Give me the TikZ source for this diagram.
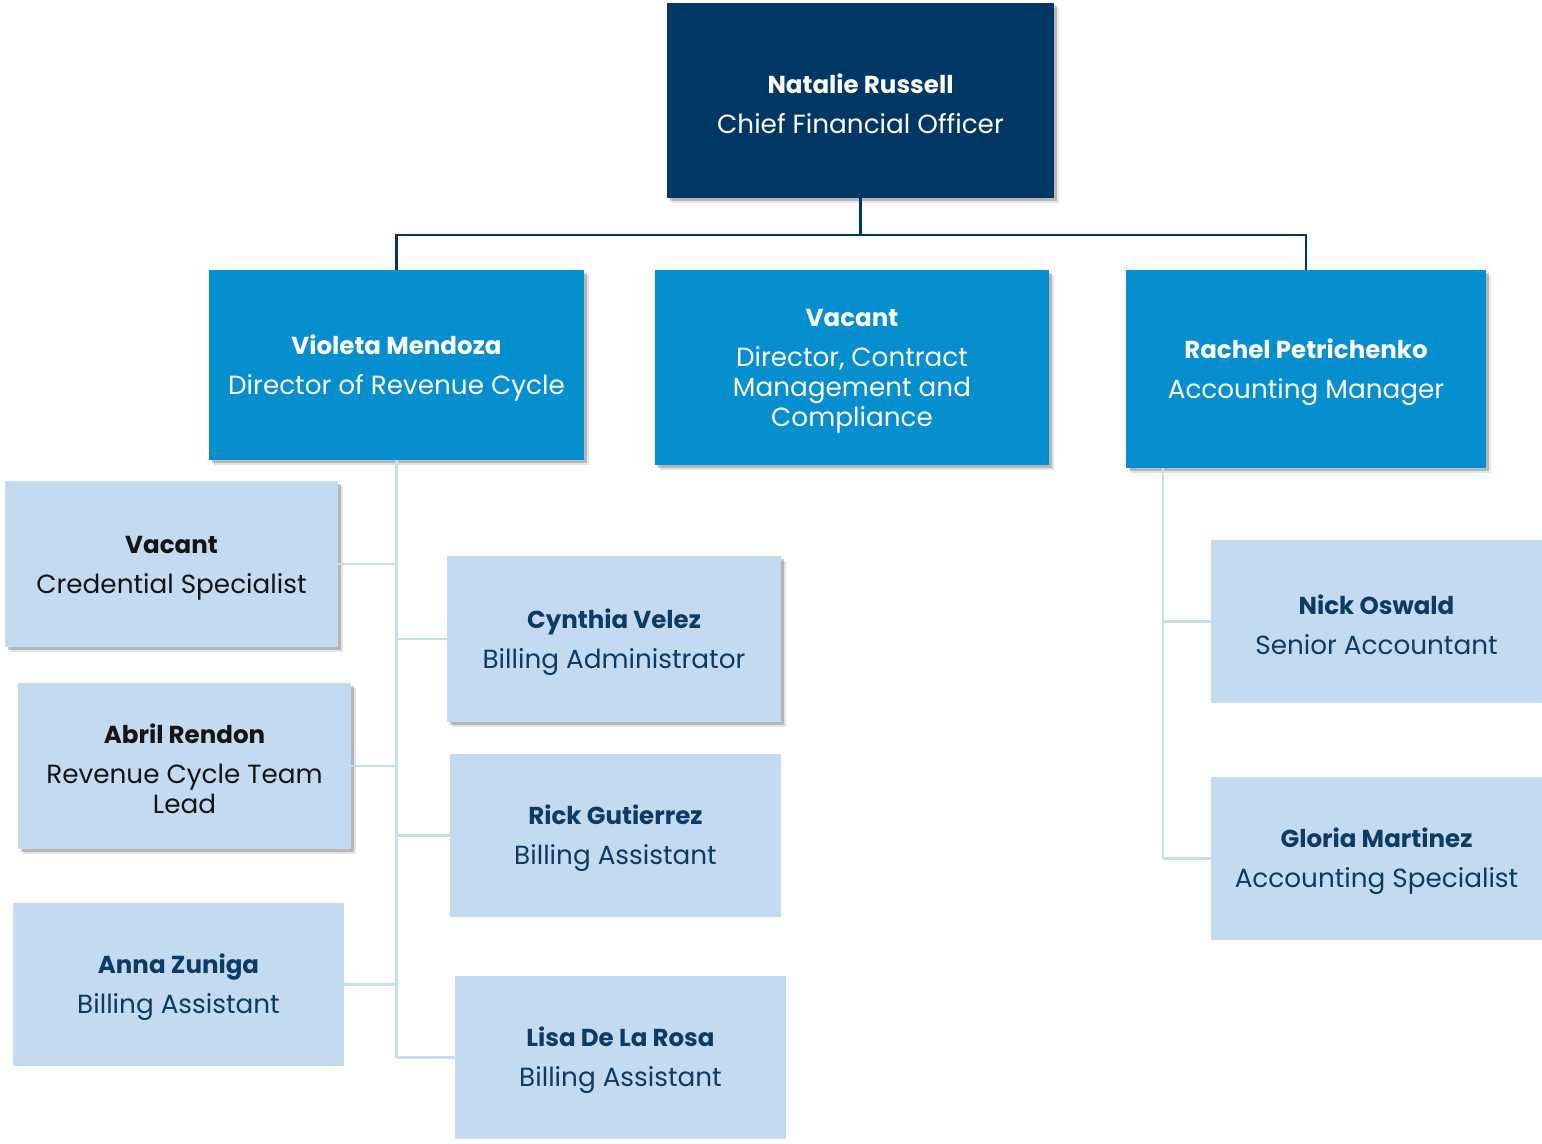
\documentclass[tikz,border=0pt]{standalone}
\usepackage{fontspec}
\setmainfont{Poppins}
\usetikzlibrary{shadows,calc}
\definecolor{navy}{HTML}{003764}
\definecolor{midblue}{HTML}{058FCF}
\definecolor{paleblue}{HTML}{C3DAF0}
\definecolor{paleline}{HTML}{C6DDF2}
\definecolor{darktext}{HTML}{0E3A66}
\definecolor{blacktext}{HTML}{141414}
\newcommand{\orgfont}{\fontsize{19.7pt}{22.5pt}\selectfont}
\newcommand{\namefont}{\fontsize{18.4pt}{22.5pt}\selectfont\bfseries}
% name line gets a tall strut so the block sits slightly lower in its box
\newcommand{\who}[2]{\rule{0pt}{19pt}{\namefont #1}\\[7.5pt]#2}
\tikzset{
  x=0.75pt, y=-0.75pt,
  box/.style={rectangle, inner sep=0pt, align=center, font=\orgfont},
  dims/.style 2 args={minimum width=#1*0.75pt, minimum height=#2*0.75pt},
  softshadow/.style={
    drop shadow={shadow xshift=2pt, shadow yshift=-2pt, opacity=.30, fill=black!70},
    drop shadow={shadow xshift=4pt, shadow yshift=-4pt, opacity=.15, fill=black!70}},
  ceo/.style={box, fill=navy, text=white, softshadow},
  director/.style={box, fill=midblue, text=white, softshadow},
  staff/.style={box, fill=paleblue, text=darktext},
  stafflift/.style={staff, softshadow},
  topline/.style={draw=navy, line width=1.6pt},
  subline/.style={draw=paleline, line width=1.6pt}
}
\begin{document}
\begin{tikzpicture}
\useasboundingbox (0,0) rectangle (1542,1143);

% chief
\node[ceo, dims={387}{195}] (cfo) at (860.5,100.5) {\who{Natalie Russell}{Chief Financial Officer}};

% directors
\node[director, dims={375}{190}] (vm) at (396.5,365) {\who{Violeta Mendoza}{Director of Revenue Cycle}};
\node[director, dims={394}{195}] (vd) at (852,367.5) {\who{Vacant}{Director, Contract\\Management and\\Compliance}};
\node[director, dims={360}{198}] (rp) at (1306,369) {\who{Rachel Petrichenko}{Accounting Manager}};

% revenue cycle staff
\node[stafflift, text=blacktext, dims={333}{166}] (cred) at (171.5,564) {\who{Vacant}{Credential Specialist}};
\node[stafflift, dims={334}{166}] (cv) at (614,639) {\who{Cynthia Velez}{Billing Administrator}};
\node[stafflift, text=blacktext, dims={333}{166}] (ar) at (184.5,766) {\who{Abril Rendon}{Revenue Cycle Team\\Lead}};
\node[staff, dims={331}{163}] (rg) at (615.5,835.5) {\who{Rick Gutierrez}{Billing Assistant}};
\node[staff, dims={331}{163}] (az) at (178.5,984.5) {\who{Anna Zuniga}{Billing Assistant}};
\node[staff, dims={331}{163}] (ld) at (620.5,1057.5) {\who{Lisa De La Rosa}{Billing Assistant}};

% accounting staff
\node[staff, dims={331}{163}] (no) at (1376.5,621.5) {\who{Nick Oswald}{Senior Accountant}};
\node[staff, dims={331}{163}] (gm) at (1376.5,858.5) {\who{Gloria Martinez}{Accounting Specialist}};

% top level connectors
\coordinate (bus) at ($(cfo.south)+(0,37)$);
\draw[topline] (cfo.south) -- (bus);
\draw[topline] (vm.north) -- (vm.north |- bus) -- (rp.north |- bus) -- (rp.north);

% revenue cycle branch
\draw[subline] (vm.south) -- (vm.south |- ld.west);
\foreach \n in {cred, ar, az} \draw[subline] (\n.east) -- (vm.south |- \n.east);
\foreach \n in {cv, rg, ld} \draw[subline] (\n.west) -- (vm.south |- \n.west);

% accounting branch
\coordinate (acct) at ($(rp.south west)+(37,0)$);
\draw[subline] (acct) -- (acct |- gm.west);
\foreach \n in {no, gm} \draw[subline] (\n.west) -- (acct |- \n.west);
\end{tikzpicture}
\end{document}
